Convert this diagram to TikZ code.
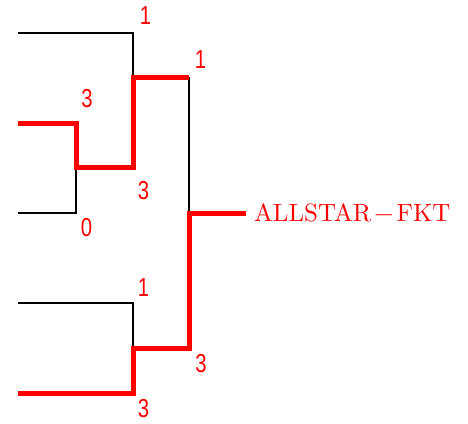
\documentclass[tikz,border=0pt]{standalone}
\usepackage{xcolor}
\usepackage{fontspec}
\newfontfamily\scorefont{Liberation Sans}
\newfontfamily\teamfont{lmroman10-regular.otf}
\tikzset{
  lose/.style={draw=black,line width=2.2pt},
  win/.style={draw=red,line width=5pt,line join=miter},
  score/.style={text=red,inner sep=0pt,xscale=0.78,font=\scorefont\fontsize{26}{28}\selectfont},
  team/.style={text=red,inner sep=0pt,anchor=west,font=\teamfont\fontsize{25}{28}\selectfont}
}
\begin{document}
\begin{tikzpicture}[x=1pt,y=-1pt]
\useasboundingbox (0,0) rectangle (468,423);
\coordinate (t1) at (18,33);
\coordinate (t2) at (18,123);
\coordinate (t3) at (18,213);
\coordinate (t4) at (18,303);
\coordinate (t5) at (18,393);
\coordinate (m1) at (76,167);
\coordinate (q1) at (133,77);
\coordinate (q2) at (133,348);
\coordinate (f) at (189,213);
\coordinate (fq) at (189,77);
\node [team] (champ) at (254,212.5) {ALLSTAR\kern3pt\textminus\kern3pt FKT};
\draw [lose] (t1) -| (q1);
\draw [lose] (t3) -| (m1);
\draw [lose] (fq) -- (f);
\draw [lose] (t4) -| (q2);
\draw [win] (t2) -| (m1) -| (q1) -- (fq);
\draw [win] (t5) -| (q2) -| (f) -- (246,213);
\node [score] (s1) at (145.5,16) {1};
\node [score] (s2) at (87,98.5) {3};
\node [score] (s3) at (86.5,227.5) {0};
\node [score] (s4) at (143.5,191) {3};
\node [score] (s5) at (200.5,60) {1};
\node [score] (s6) at (143.5,288) {1};
\node [score] (s7) at (143.5,409) {3};
\node [score] (s8) at (201,364) {3};
\end{tikzpicture}
\end{document}
